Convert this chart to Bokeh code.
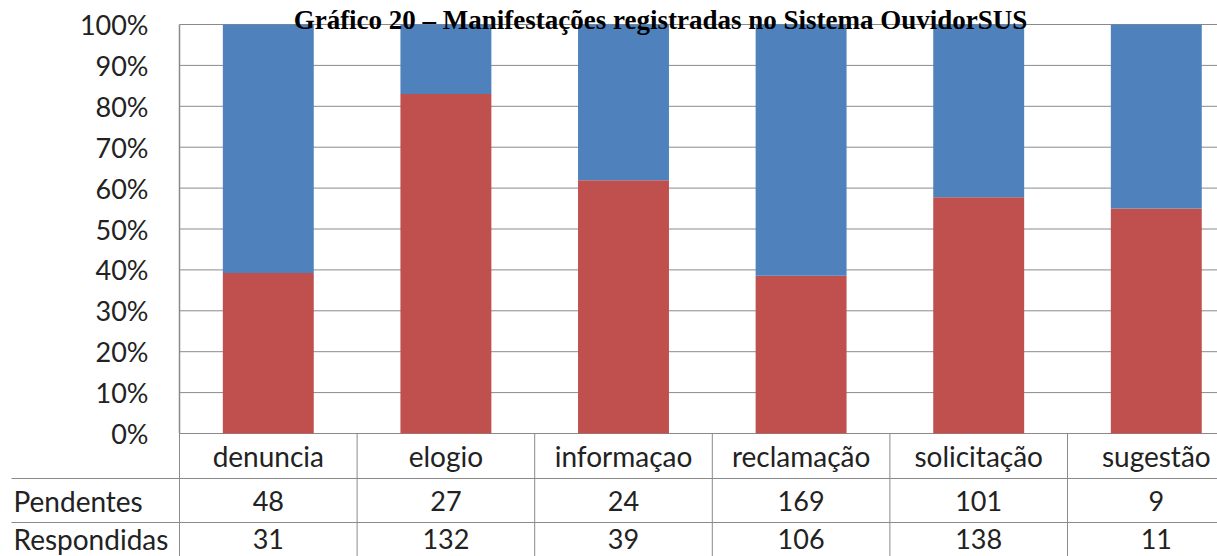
from bokeh.plotting import figure
from bokeh.models import Range1d, NumeralTickFormatter, FixedTicker, ColumnDataSource
from bokeh.core.properties import value
from bokeh.embed import file_html
from bokeh.resources import INLINE

# ---- data ----
categories = ["denuncia", "elogio", "informaçao", "reclamação", "solicitação", "sugestão"]
pendentes = [48, 27, 24, 169, 101, 9]
respondidas = [31, 132, 39, 106, 138, 11]
row_labels = ["Pendentes", "Respondidas"]
y_ticks = [0.0, 0.1, 0.2, 0.3, 0.4, 0.5, 0.6, 0.7, 0.8, 0.9, 1.0]
title_text = "Gráfico 20 – Manifestações registradas no Sistema OuvidorSUS"

BLUE = "#4F81BD"
RED = "#C0504D"
GRID = "#8a8a8a"
TXT = "#222222"
FONT = "Lato"
FS_NUM = "27px"
FS_WORD = "28px"

# ---- layout constants (px) ----
W, H = 1217, 556
CAT = 177.6          # px per category
LEFT = 179           # x px of first category boundary / value axis
Y1PX, Y0PX = 24, 433 # px of 100% and 0%
SCALE = Y0PX - Y1PX


def ry(px):
    """vertical page pixel -> value-axis units"""
    return (Y0PX - px) / SCALE


def rx(px):
    return (px - LEFT) / CAT


n = len(categories)
xs = [i + 0.5 for i in range(n)]
totals = [a + b for a, b in zip(pendentes, respondidas)]
resp_frac = [r / t for r, t in zip(respondidas, totals)]
src = ColumnDataSource(dict(x=xs, resp=resp_frac, one=[1.0] * n))

x0, x1 = rx(0), rx(W)
y0, y1 = ry(H), ry(0)
p = figure(width=W, height=H, output_backend="svg", toolbar_location=None,
           x_range=Range1d(x0, x1), y_range=Range1d(y0, y1),
           x_axis_location=None, y_axis_location="left",
           min_border_left=0, min_border_right=0, min_border_top=0, min_border_bottom=0)
p.outline_line_color = None
p.grid.visible = False

ax = p.yaxis[0]
ax.fixed_location = 0
ax.bounds = (0, 1)
ax.ticker = FixedTicker(ticks=y_ticks)
ax.formatter = NumeralTickFormatter(format="0%")
ax.major_tick_out = 0
ax.major_tick_in = 0
ax.minor_tick_out = 0
ax.minor_tick_in = 0
ax.major_label_standoff = 31
ax.axis_line_color = GRID
ax.axis_line_width = 1.5
ax.major_label_text_font = FONT
ax.major_label_text_font_size = FS_NUM
ax.major_label_text_color = TXT

# horizontal gridlines from the value axis to the right edge
p.segment(x0=[0] * len(y_ticks), y0=y_ticks, x1=[x1] * len(y_ticks), y1=y_ticks,
          line_color=GRID, line_width=1)

p.vbar(x="x", bottom=0, top="resp", width=0.512, source=src, fill_color=RED, line_color=None)
p.vbar(x="x", bottom="resp", top="one", width=0.512, source=src, fill_color=BLUE, line_color=None)

# ---- data table ----
bnd = list(range(n))
p.segment(x0=bnd, y0=[y0] * n, x1=bnd, y1=[0] * n, line_color=GRID, line_width=1)
row_lines = [ry(478), ry(522)]
p.segment(x0=[rx(11)] * 2, y0=row_lines, x1=[x1] * 2, y1=row_lines, line_color=GRID, line_width=1)

hdr_mid = ry(455)
p.text(x=xs, y=[hdr_mid] * n, text=categories, text_align="center", text_baseline="middle",
       text_font=value(FONT), text_font_size=FS_WORD, text_color=TXT)

mids = [ry(500), ry(538)]
for yy, vals in zip(mids, [pendentes, respondidas]):
    p.text(x=xs, y=[yy] * n, text=[str(v) for v in vals], text_align="center", text_baseline="middle",
           text_font=value(FONT), text_font_size=FS_NUM, text_color=TXT)
p.text(x=[rx(13)] * 2, y=mids, text=row_labels, text_align="left", text_baseline="middle",
       text_font=value(FONT), text_font_size=FS_WORD, text_color=TXT)

# title
p.text(x=[rx(660)], y=[ry(19)], text=[title_text],
       text_align="center", text_baseline="alphabetic",
       text_font=value("Liberation Serif"), text_font_style="bold", text_font_size="27px",
       text_color="black")

open("out.html", "w").write(file_html(p, INLINE))
